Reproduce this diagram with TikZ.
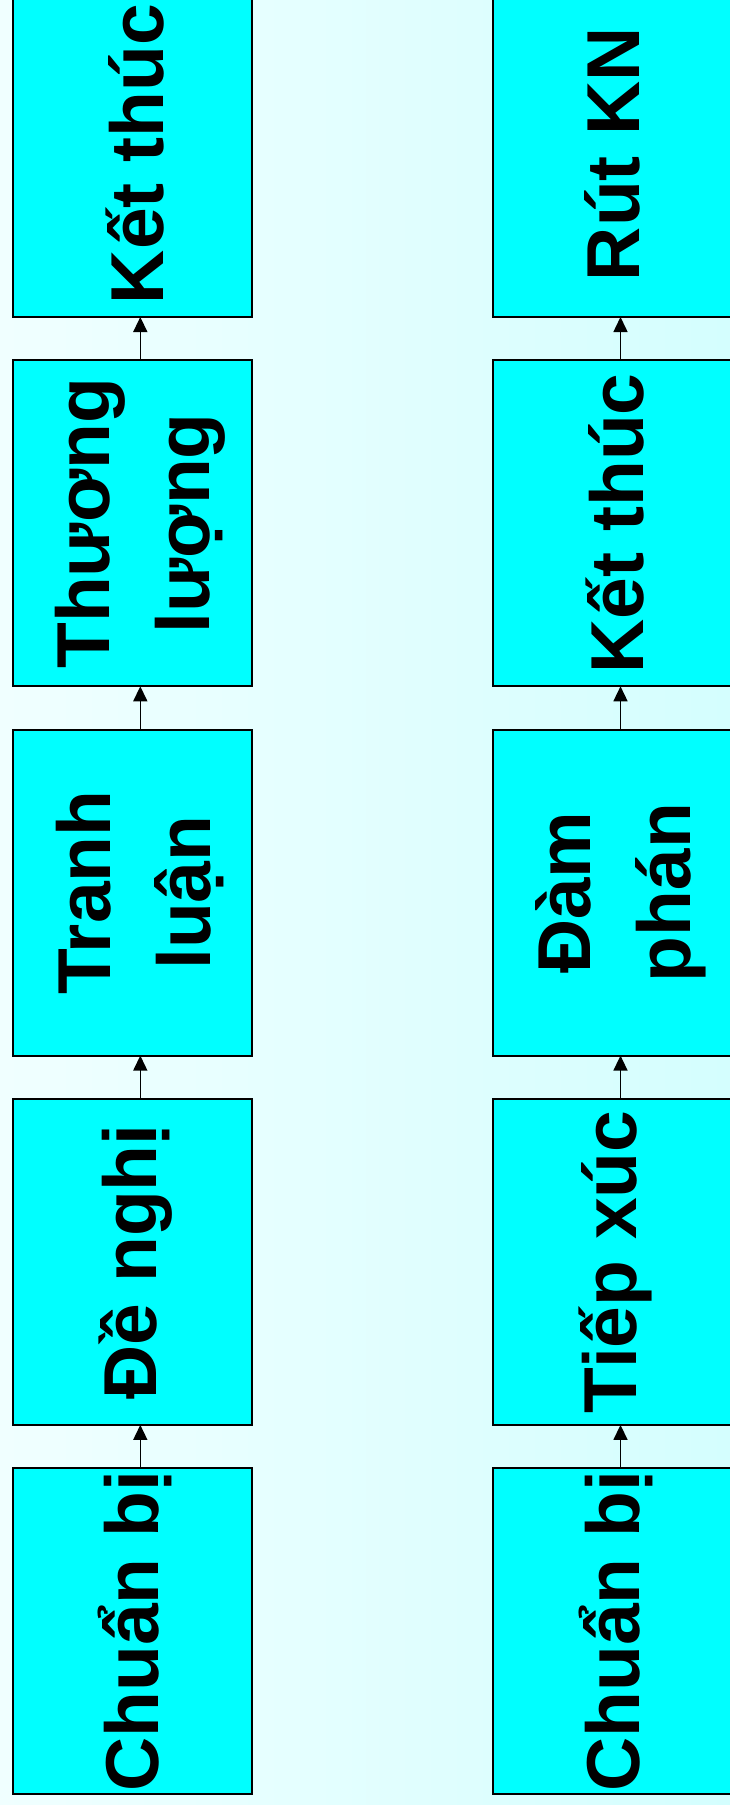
\documentclass[tikz,border=0pt]{standalone}
\usepackage{fontspec}
\setmainfont{Liberation Sans}
\usetikzlibrary{arrows.meta}
\definecolor{boxcyan}{HTML}{00FFFF}
\definecolor{bgleft}{HTML}{F0FFFF}
\definecolor{bgright}{HTML}{D4FEFE}
\begin{document}
\begin{tikzpicture}[x=1pt,y=-1pt,
  stage/.style={draw=black, line width=2pt, fill=boxcyan,
    minimum width=239pt, minimum height=326pt, inner sep=0pt, outer sep=0pt},
  stagetext/.style={rotate=90, align=center, inner sep=0pt,
    font=\fontsize{75}{100}\selectfont\bfseries},
  flow/.style={-{Triangle[length=15pt,width=14pt]}, line width=1.5pt}]
\shade[left color=bgleft, right color=bgright] (0,0) rectangle (730,1805);
\useasboundingbox (0,0) rectangle (730,1805);

% left column: bottom to top
\node[stage] (L1) at (132.3,1631.2) {};
\node[stage] (L2) at (132.3,1261.9) {};
\node[stage] (L3) at (132.3,892.6) {};
\node[stage] (L4) at (132.3,523.3) {};
\node[stage] (L5) at (132.3,154.0) {};
\node[stagetext] (tL1) at ([xshift=3pt]L1.center) {Chuẩn bị};
\node[stagetext] (tL2) at ([xshift=3pt]L2.center) {Đề nghị};
\node[stagetext] (tL3) at ([xshift=8pt]L3.center) {Tranh\\luận};
\node[stagetext] (tL4) at ([xshift=8pt]L4.center) {Thương\\lượng};
\node[stagetext] (tL5) at ([xshift=3pt]L5.center) {Kết thúc};

% right column: bottom to top
\node[stage] (R1) at (612.5,1631.2) {};
\node[stage] (R2) at (612.5,1261.9) {};
\node[stage] (R3) at (612.5,892.6) {};
\node[stage] (R4) at (612.5,523.3) {};
\node[stage] (R5) at (612.5,154.0) {};
\node[stagetext] (tR1) at ([xshift=3pt]R1.center) {Chuẩn bị};
\node[stagetext] (tR2) at ([xshift=3pt]R2.center) {Tiếp xúc};
\node[stagetext] (tR3) at ([xshift=8pt]R3.center) {Đàm\\phán};
\node[stagetext] (tR4) at ([xshift=3pt]R4.center) {Kết thúc};
\node[stagetext] (tR5) at (R5.center) {Rút KN};

% upward flow arrows
\foreach \c in {L,R}{
  \foreach \a/\b in {1/2,2/3,3/4,4/5}{
    \draw[flow] ([xshift=8pt]\c\a.north) -- ([xshift=8pt]\c\b.south);
  }
}
\end{tikzpicture}
\end{document}
